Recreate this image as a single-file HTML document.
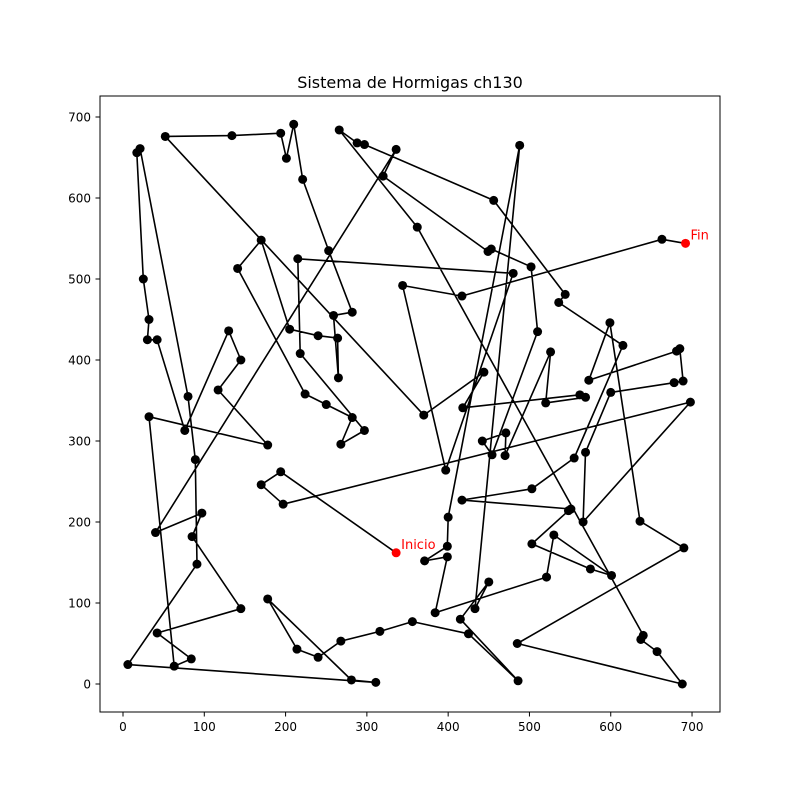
<!DOCTYPE html>
<html><head><meta charset="utf-8"><style>
body{margin:0;background:#fff}
svg text{font-family:"DejaVu Sans","Liberation Sans",sans-serif}
</style></head><body>
<svg id="chart" width="800" height="800" xmlns="http://www.w3.org/2000/svg">
<rect width="800" height="800" fill="#fff"/>
<text x="410" y="88" text-anchor="middle" font-size="16">Sistema de Hormigas ch130</text>
<g id="axes"></g>
<g id="marks"></g>
<rect x="100" y="96" width="620" height="616" fill="none" stroke="#000" stroke-width="1"/>
</svg>
<script>
const routeX=[336,194,170,197,698,566,569,600,678,689,685,681,573,599,636,690,485,688,657,637,640,362,266,288,297,456,544,536,615,555,503,417,551,548,503,575,601,530,521,384,399,371,399,400,488,433,450,415,486,425,356,316,268,240,214,178,281,311,6,91,89,80,21,17,25,32,30,42,76,130,145,117,178,32,63,84,42,145,85,97,40,336,320,449,453,502,510,454,442,471,470,526,520,569,562,418,444,370,52,134,194,201,210,221,253,282,259,265,264,240,205,170,141,224,250,282,268,297,218,215,480,397,344,417,663,692];
const routeY=[162,262,246,222,348,200,286,360,372,374,414,411,375,446,201,168,50,0,40,55,60,564,684,668,666,597,481,471,418,279,241,227,216,214,173,142,134,184,132,88,157,152,170,206,665,93,126,80,4,62,77,65,53,33,43,105,5,2,24,148,277,355,661,656,500,450,425,425,313,436,400,363,295,330,22,31,63,93,182,211,187,660,627,534,537,515,435,283,300,310,282,410,347,354,357,341,385,332,676,677,680,649,691,623,535,459,455,378,427,430,438,548,513,358,345,329,296,313,408,525,507,264,492,479,549,544];
const xTicks=[0,100,200,300,400,500,600,700];
const yTicks=[0,100,200,300,400,500,600,700];
const labels=["Inicio","Fin"];
const NS="http://www.w3.org/2000/svg";
function sx(v){return 123+v*0.8129;}
function sy(v){return 684-v*0.81;}
const axes=document.getElementById('axes');
const marks=document.getElementById('marks');
function mk(tag,attrs,parent){const e=document.createElementNS(NS,tag);for(const k in attrs)e.setAttribute(k,attrs[k]);parent.appendChild(e);return e;}
xTicks.forEach(t=>{
  const l=mk('line',{x1:sx(t),x2:sx(t),y1:712,y2:716.5,stroke:'#000'},axes);
  
  
  const tx=mk('text',{x:sx(t),y:731,'text-anchor':'middle','font-size':'12'},axes);
  
  
  tx.textContent=t;
});
yTicks.forEach(t=>{
  const l=mk('line',{x1:95.5,x2:100,y1:sy(t),y2:sy(t),stroke:'#000'},axes);
  
  
  const tx=mk('text',{x:91,y:sy(t)+4.5,'text-anchor':'end','font-size':'12'},axes);
  
  
  tx.textContent=t;
});
const pts=routeX.map((x,i)=>sx(x).toFixed(1)+','+sy(routeY[i]).toFixed(1)).join(' ');
const pl=mk('polyline',{points:pts,fill:'none',stroke:'#000','stroke-width':'1.6','stroke-linejoin':'round'},marks);


routeX.forEach((x,i)=>{
  const last=i===routeX.length-1;
  const red=(i===0||last);
  const c=mk('circle',{cx:sx(x),cy:sy(routeY[i]),r:4.5,fill:red?'#ff0000':'#000'},marks);
  
  
});
[[0,labels[0]],[routeX.length-1,labels[1]]].forEach(([i,txt])=>{
  const t=mk('text',{x:sx(routeX[i])+5,y:sy(routeY[i])-4,fill:'#ff0000','font-size':'13'},marks);
  
  
  t.textContent=txt;
});
</script>
</body></html>
